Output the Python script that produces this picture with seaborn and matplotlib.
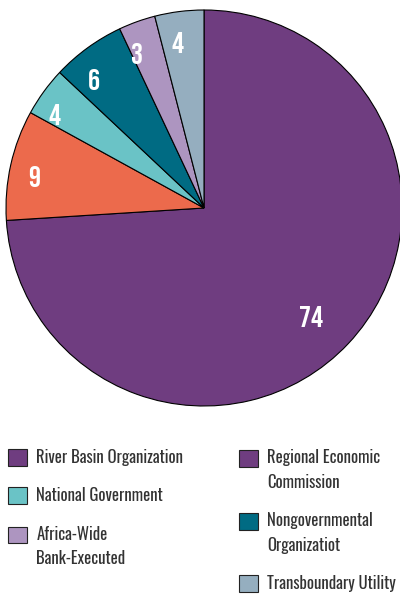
import numpy as np
import matplotlib
matplotlib.use("Agg")
import matplotlib.pyplot as plt
from matplotlib.patches import Patch, Rectangle
from matplotlib.legend_handler import HandlerPatch
import seaborn as sns

# slices, clockwise from 12 o'clock
slice_values = [74, 9, 4, 6, 3, 4]
slice_colors = ["#6f3d80", "#ec6a4c", "#6ac3c6", "#006b83", "#ad95c0", "#95aebf"]

# legend, left column then right column
legend_left = ["River Basin Organization", "National Government", "Africa-Wide\nBank-Executed"]
legend_left_colors = ["#6f3d80", "#6ac3c6", "#ad95c0"]
legend_right = ["Regional Economic\nCommission", "Nongovernmental\nOrganizatiot", "Transboundary Utility"]
legend_right_colors = ["#6f3d80", "#006b83", "#95aebf"]

sns.set_theme(style="white")
num_font = ["Bebas Neue", "Barlow Condensed", "Roboto Condensed", "DejaVu Sans"]
txt_font = ["Oswald", "Roboto Condensed", "DejaVu Sans"]

fig = plt.figure(figsize=(4, 5.95), dpi=100)
ax = fig.add_axes([6 / 400, 189 / 595, 396 / 400, 396 / 595])

wedges, _ = ax.pie(slice_values, colors=slice_colors, startangle=90, counterclock=False,
                   wedgeprops=dict(edgecolor="black", linewidth=0.8))
ax.set_xlim(-1, 1)
ax.set_ylim(-1, 1)
ax.set_aspect("equal")

# label distance from centre and small angle nudge, per slice
label_r = [0.77, 0.875, 0.89, 0.855, 0.85, 0.845]
label_nudge = [-2, 2, 4, 4.5, 3.5, 2]
for w, v, r, dn in zip(wedges, slice_values, label_r, label_nudge):
    mid = np.deg2rad((w.theta1 + w.theta2) / 2 + dn)
    ax.text(r * np.cos(mid), r * np.sin(mid), str(v), ha="center", va="center",
            color="white", fontsize=21.5, fontweight="bold", family=num_font)


# square sits next to the first line of a two-line label
class TopSquare(HandlerPatch):
    def __init__(self, shift=0.0):
        super().__init__()
        self.shift = shift

    def create_artists(self, legend, orig_handle, xdescent, ydescent, width, height, fontsize, trans):
        p = Rectangle((-xdescent, -ydescent + self.shift), width, height)
        self.update_prop(p, orig_handle, legend)
        p.set_transform(trans)
        return [p]


LINESP = 1.55
FS = 12


def make_legend(labels, colors, x):
    handles = [Patch(facecolor=c, edgecolor="#222222", linewidth=0.8) for c in colors]
    hmap = {h: TopSquare(0.5 * LINESP * FS * l.count("\n")) for h, l in zip(handles, labels)}
    leg = fig.legend(handles, labels, loc="upper left", bbox_to_anchor=(x, 146 / 595),
                     frameon=False, handlelength=1.15, handleheight=1.15, handletextpad=0.55,
                     labelspacing=1.28, borderaxespad=0, borderpad=0, handler_map=hmap,
                     prop=dict(family=txt_font, size=FS, weight="light"))
    for t in leg.get_texts():
        t.set_color("#333333")
        t.set_linespacing(LINESP)
    return leg


make_legend(legend_left, legend_left_colors, 8 / 400)
make_legend(legend_right, legend_right_colors, 239 / 400)

fig.savefig("out.png", dpi=100)
